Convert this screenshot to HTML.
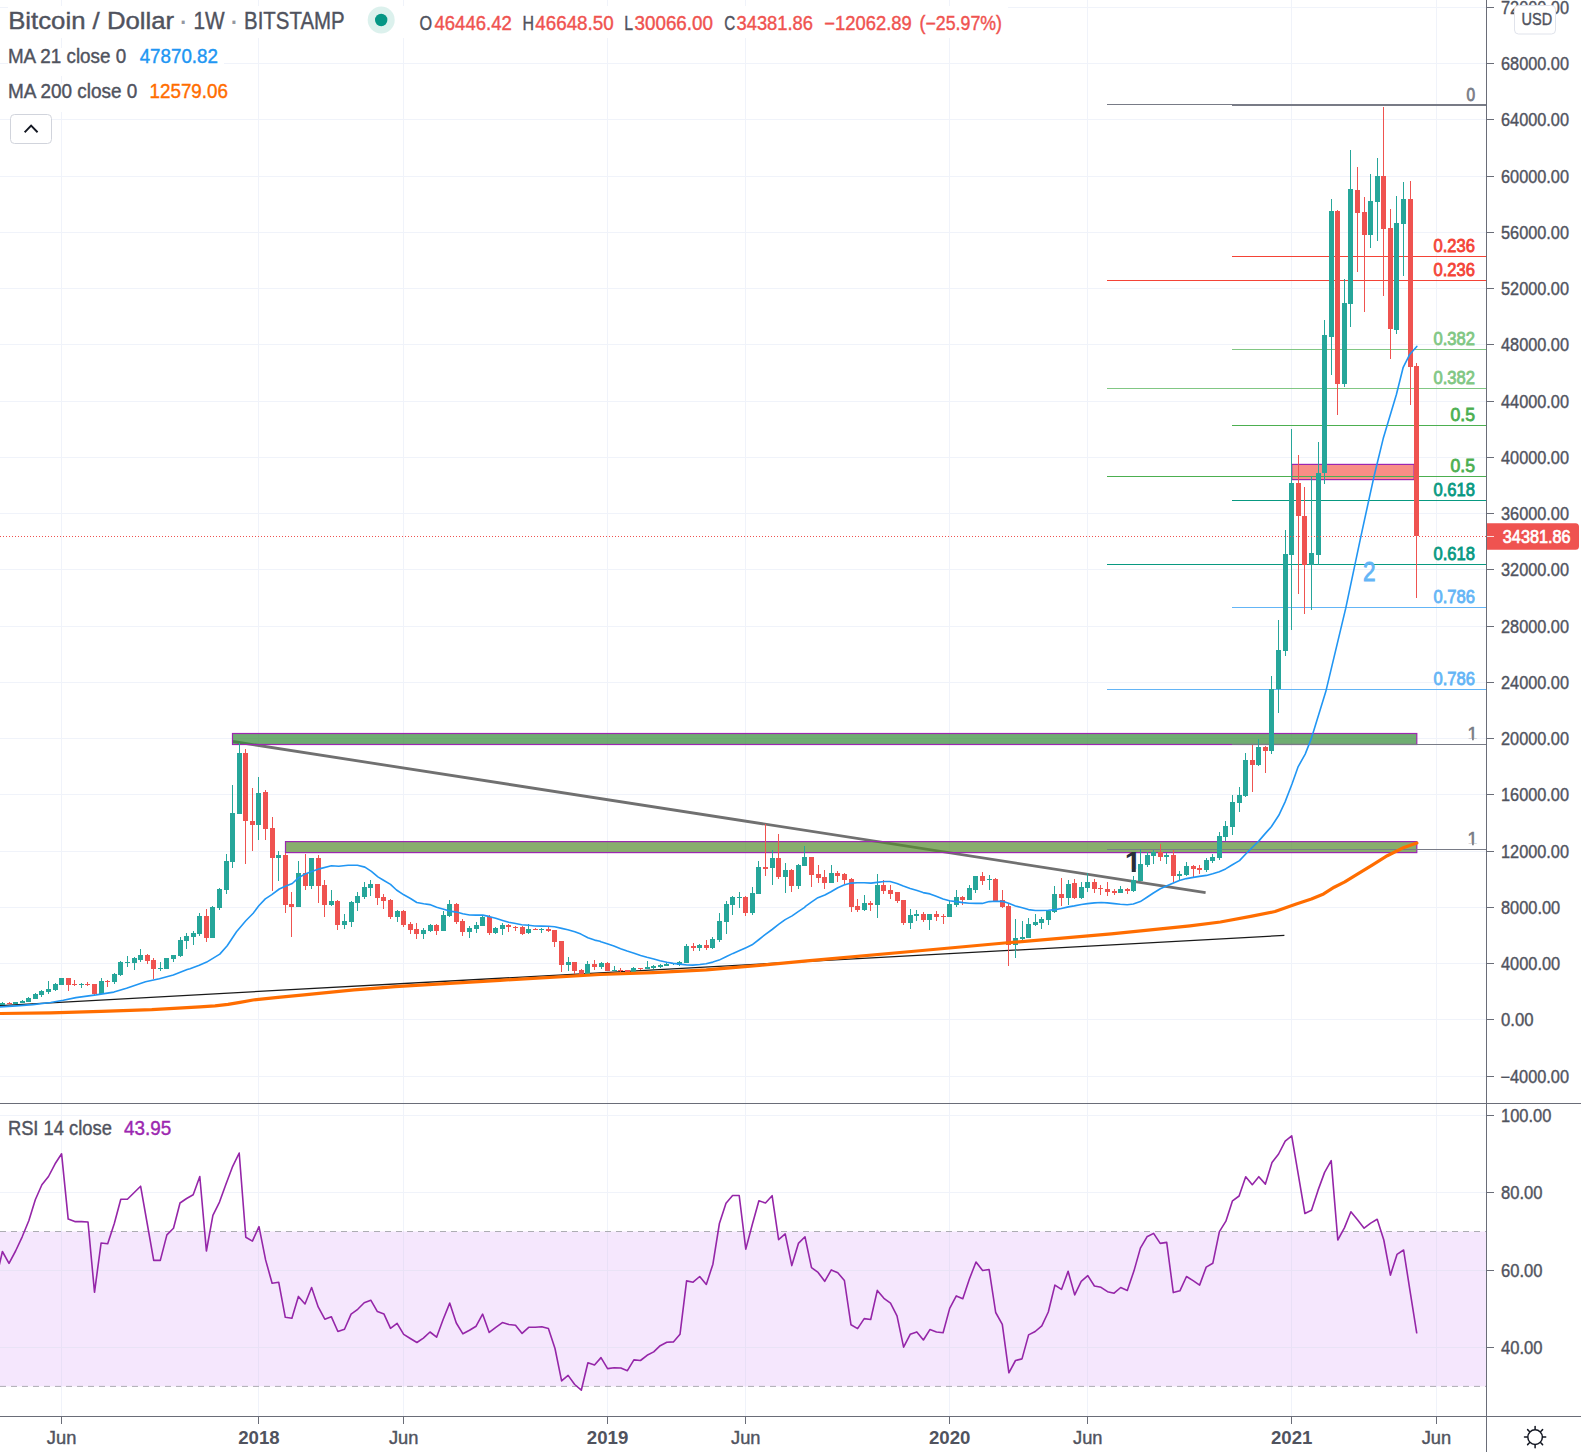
<!DOCTYPE html>
<html><head><meta charset="utf-8"><title>Bitcoin / Dollar 1W BITSTAMP</title>
<style>html,body{margin:0;padding:0;background:#fff;overflow:hidden}svg{display:block}</style></head>
<body>
<svg width="1581" height="1452" viewBox="0 0 1581 1452" font-family="Liberation Sans, sans-serif">
<rect width="1581" height="1452" fill="#fff"/>
<rect x="0" y="1231.5" width="1486" height="154.9" fill="#f5e7fd"/>
<g fill="#f0f3fa" shape-rendering="crispEdges">
<rect x="0" y="1076" width="1486" height="1"/>
<rect x="0" y="1019" width="1486" height="1"/>
<rect x="0" y="963" width="1486" height="1"/>
<rect x="0" y="907" width="1486" height="1"/>
<rect x="0" y="851" width="1486" height="1"/>
<rect x="0" y="794" width="1486" height="1"/>
<rect x="0" y="738" width="1486" height="1"/>
<rect x="0" y="682" width="1486" height="1"/>
<rect x="0" y="626" width="1486" height="1"/>
<rect x="0" y="569" width="1486" height="1"/>
<rect x="0" y="513" width="1486" height="1"/>
<rect x="0" y="457" width="1486" height="1"/>
<rect x="0" y="401" width="1486" height="1"/>
<rect x="0" y="344" width="1486" height="1"/>
<rect x="0" y="288" width="1486" height="1"/>
<rect x="0" y="232" width="1486" height="1"/>
<rect x="0" y="176" width="1486" height="1"/>
<rect x="0" y="119" width="1486" height="1"/>
<rect x="0" y="63" width="1486" height="1"/>
<rect x="0" y="7" width="1486" height="1"/>
<rect x="0" y="1115" width="1486" height="1" fill="#e9e3f6" opacity="0"/>
<rect x="0" y="1115" width="1486" height="1"/>
<rect x="0" y="1192" width="1486" height="1" fill="#e9e3f6" opacity="0"/>
<rect x="0" y="1192" width="1486" height="1"/>
<rect x="0" y="1270" width="1486" height="1" fill="#e9e3f6" opacity="1"/>
<rect x="0" y="1347" width="1486" height="1" fill="#e9e3f6" opacity="1"/>
<rect x="61" y="0" width="1" height="1231"/>
<rect x="61" y="1231" width="1" height="156" fill="#e9e0f7"/>
<rect x="61" y="1387" width="1" height="29"/>
<rect x="258" y="0" width="1" height="1231"/>
<rect x="258" y="1231" width="1" height="156" fill="#e9e0f7"/>
<rect x="258" y="1387" width="1" height="29"/>
<rect x="403" y="0" width="1" height="1231"/>
<rect x="403" y="1231" width="1" height="156" fill="#e9e0f7"/>
<rect x="403" y="1387" width="1" height="29"/>
<rect x="607" y="0" width="1" height="1231"/>
<rect x="607" y="1231" width="1" height="156" fill="#e9e0f7"/>
<rect x="607" y="1387" width="1" height="29"/>
<rect x="745" y="0" width="1" height="1231"/>
<rect x="745" y="1231" width="1" height="156" fill="#e9e0f7"/>
<rect x="745" y="1387" width="1" height="29"/>
<rect x="949" y="0" width="1" height="1231"/>
<rect x="949" y="1231" width="1" height="156" fill="#e9e0f7"/>
<rect x="949" y="1387" width="1" height="29"/>
<rect x="1087" y="0" width="1" height="1231"/>
<rect x="1087" y="1231" width="1" height="156" fill="#e9e0f7"/>
<rect x="1087" y="1387" width="1" height="29"/>
<rect x="1291" y="0" width="1" height="1231"/>
<rect x="1291" y="1231" width="1" height="156" fill="#e9e0f7"/>
<rect x="1291" y="1387" width="1" height="29"/>
<rect x="1436" y="0" width="1" height="1231"/>
<rect x="1436" y="1231" width="1" height="156" fill="#e9e0f7"/>
<rect x="1436" y="1387" width="1" height="29"/>
</g>
<line x1="0" y1="1231.5" x2="1486" y2="1231.5" stroke="#adadb3" stroke-width="1" stroke-dasharray="6 5"/>
<line x1="0" y1="1386.4" x2="1486" y2="1386.4" stroke="#adadb3" stroke-width="1" stroke-dasharray="6 5"/>
<line x1="0" y1="1005.6" x2="1284.4" y2="935.4" stroke="#1a1a1a" stroke-width="1.3"/>
<line x1="233" y1="741.5" x2="1205.6" y2="892.6" stroke="#707070" stroke-width="2.8"/>
<rect x="232.5" y="733.5" width="1184.3" height="11" fill="#388e3c" fill-opacity="0.72" stroke="#9c27b0" stroke-width="1.2"/>
<rect x="285.5" y="841.6" width="1131.3" height="11" fill="#558b2f" fill-opacity="0.7" stroke="#9c27b0" stroke-width="1.2"/>
<rect x="1291.8" y="464.4" width="122.3" height="15.2" fill="#f44336" fill-opacity="0.6" stroke="#9c27b0" stroke-width="1.2"/>
<g shape-rendering="crispEdges">
<rect x="1107" y="104" width="379" height="1" fill="#787b86"/>
<rect x="1107" y="280" width="379" height="1" fill="#f44336"/>
<rect x="1107" y="388" width="379" height="1" fill="#81c784"/>
<rect x="1107" y="476" width="379" height="1" fill="#4caf50"/>
<rect x="1107" y="564" width="379" height="1" fill="#089981"/>
<rect x="1107" y="689" width="379" height="1" fill="#64b5f6"/>
<rect x="1107" y="849" width="379" height="1" fill="#787b86"/>
</g>
<g shape-rendering="crispEdges">
<rect x="1232" y="105" width="254" height="1" fill="#787b86"/>
<rect x="1232" y="256" width="254" height="1" fill="#f44336"/>
<rect x="1232" y="349" width="254" height="1" fill="#81c784"/>
<rect x="1232" y="425" width="254" height="1" fill="#4caf50"/>
<rect x="1232" y="500" width="254" height="1" fill="#089981"/>
<rect x="1232" y="607" width="254" height="1" fill="#64b5f6"/>
<rect x="1232" y="744" width="254" height="1" fill="#787b86"/>
</g>
<g shape-rendering="crispEdges">
<rect x="2" y="1002" width="1" height="3" fill="#26a69a"/>
<rect x="0" y="1003" width="5" height="2" fill="#26a69a"/>
<rect x="9" y="1002" width="1" height="2" fill="#ef5350"/>
<rect x="7" y="1003" width="5" height="1" fill="#ef5350"/>
<rect x="15" y="1002" width="1" height="2" fill="#26a69a"/>
<rect x="13" y="1002" width="5" height="2" fill="#26a69a"/>
<rect x="22" y="1000" width="1" height="3" fill="#26a69a"/>
<rect x="20" y="1001" width="5" height="2" fill="#26a69a"/>
<rect x="28" y="997" width="1" height="5" fill="#26a69a"/>
<rect x="26" y="998" width="5" height="4" fill="#26a69a"/>
<rect x="35" y="993" width="1" height="6" fill="#26a69a"/>
<rect x="33" y="994" width="5" height="5" fill="#26a69a"/>
<rect x="41" y="990" width="1" height="7" fill="#26a69a"/>
<rect x="39" y="991" width="5" height="4" fill="#26a69a"/>
<rect x="48" y="981" width="1" height="13" fill="#26a69a"/>
<rect x="46" y="989" width="5" height="3" fill="#26a69a"/>
<rect x="55" y="983" width="1" height="8" fill="#26a69a"/>
<rect x="53" y="984" width="5" height="6" fill="#26a69a"/>
<rect x="61" y="978" width="1" height="7" fill="#26a69a"/>
<rect x="59" y="978" width="5" height="7" fill="#26a69a"/>
<rect x="68" y="978" width="1" height="13" fill="#ef5350"/>
<rect x="66" y="978" width="5" height="7" fill="#ef5350"/>
<rect x="74" y="980" width="1" height="6" fill="#ef5350"/>
<rect x="72" y="984" width="5" height="1" fill="#ef5350"/>
<rect x="81" y="983" width="1" height="5" fill="#26a69a"/>
<rect x="79" y="984" width="5" height="1" fill="#26a69a"/>
<rect x="87" y="982" width="1" height="4" fill="#ef5350"/>
<rect x="85" y="984" width="5" height="1" fill="#ef5350"/>
<rect x="94" y="984" width="1" height="11" fill="#ef5350"/>
<rect x="92" y="984" width="5" height="10" fill="#ef5350"/>
<rect x="101" y="978" width="1" height="16" fill="#26a69a"/>
<rect x="99" y="981" width="5" height="13" fill="#26a69a"/>
<rect x="107" y="980" width="1" height="7" fill="#ef5350"/>
<rect x="105" y="981" width="5" height="1" fill="#ef5350"/>
<rect x="114" y="973" width="1" height="11" fill="#26a69a"/>
<rect x="112" y="974" width="5" height="8" fill="#26a69a"/>
<rect x="120" y="961" width="1" height="15" fill="#26a69a"/>
<rect x="118" y="962" width="5" height="13" fill="#26a69a"/>
<rect x="127" y="956" width="1" height="11" fill="#26a69a"/>
<rect x="125" y="962" width="5" height="1" fill="#26a69a"/>
<rect x="134" y="957" width="1" height="13" fill="#26a69a"/>
<rect x="132" y="958" width="5" height="5" fill="#26a69a"/>
<rect x="140" y="949" width="1" height="13" fill="#26a69a"/>
<rect x="138" y="955" width="5" height="5" fill="#26a69a"/>
<rect x="147" y="954" width="1" height="10" fill="#ef5350"/>
<rect x="145" y="955" width="5" height="6" fill="#ef5350"/>
<rect x="153" y="958" width="1" height="21" fill="#ef5350"/>
<rect x="151" y="960" width="5" height="9" fill="#ef5350"/>
<rect x="160" y="962" width="1" height="9" fill="#26a69a"/>
<rect x="158" y="968" width="5" height="1" fill="#26a69a"/>
<rect x="166" y="958" width="1" height="11" fill="#26a69a"/>
<rect x="164" y="958" width="5" height="11" fill="#26a69a"/>
<rect x="173" y="955" width="1" height="7" fill="#26a69a"/>
<rect x="171" y="955" width="5" height="4" fill="#26a69a"/>
<rect x="180" y="937" width="1" height="20" fill="#26a69a"/>
<rect x="178" y="940" width="5" height="16" fill="#26a69a"/>
<rect x="186" y="933" width="1" height="16" fill="#26a69a"/>
<rect x="184" y="936" width="5" height="5" fill="#26a69a"/>
<rect x="193" y="931" width="1" height="14" fill="#26a69a"/>
<rect x="191" y="933" width="5" height="4" fill="#26a69a"/>
<rect x="199" y="913" width="1" height="23" fill="#26a69a"/>
<rect x="197" y="916" width="5" height="18" fill="#26a69a"/>
<rect x="206" y="909" width="1" height="33" fill="#ef5350"/>
<rect x="204" y="916" width="5" height="22" fill="#ef5350"/>
<rect x="212" y="906" width="1" height="32" fill="#26a69a"/>
<rect x="210" y="907" width="5" height="31" fill="#26a69a"/>
<rect x="219" y="888" width="1" height="22" fill="#26a69a"/>
<rect x="217" y="889" width="5" height="19" fill="#26a69a"/>
<rect x="226" y="854" width="1" height="40" fill="#26a69a"/>
<rect x="224" y="861" width="5" height="29" fill="#26a69a"/>
<rect x="232" y="785" width="1" height="83" fill="#26a69a"/>
<rect x="230" y="813" width="5" height="49" fill="#26a69a"/>
<rect x="239" y="743" width="1" height="71" fill="#26a69a"/>
<rect x="237" y="753" width="5" height="61" fill="#26a69a"/>
<rect x="245" y="749" width="1" height="115" fill="#ef5350"/>
<rect x="243" y="753" width="5" height="68" fill="#ef5350"/>
<rect x="252" y="788" width="1" height="63" fill="#ef5350"/>
<rect x="250" y="821" width="5" height="4" fill="#ef5350"/>
<rect x="258" y="777" width="1" height="63" fill="#26a69a"/>
<rect x="256" y="793" width="5" height="32" fill="#26a69a"/>
<rect x="265" y="790" width="1" height="50" fill="#ef5350"/>
<rect x="263" y="792" width="5" height="37" fill="#ef5350"/>
<rect x="272" y="817" width="1" height="74" fill="#ef5350"/>
<rect x="270" y="828" width="5" height="30" fill="#ef5350"/>
<rect x="278" y="851" width="1" height="30" fill="#26a69a"/>
<rect x="276" y="855" width="5" height="3" fill="#26a69a"/>
<rect x="285" y="853" width="1" height="60" fill="#ef5350"/>
<rect x="283" y="855" width="5" height="50" fill="#ef5350"/>
<rect x="291" y="892" width="1" height="45" fill="#ef5350"/>
<rect x="289" y="904" width="5" height="3" fill="#ef5350"/>
<rect x="298" y="861" width="1" height="46" fill="#26a69a"/>
<rect x="296" y="873" width="5" height="34" fill="#26a69a"/>
<rect x="305" y="854" width="1" height="36" fill="#ef5350"/>
<rect x="303" y="873" width="5" height="13" fill="#ef5350"/>
<rect x="311" y="858" width="1" height="31" fill="#26a69a"/>
<rect x="309" y="858" width="5" height="28" fill="#26a69a"/>
<rect x="318" y="855" width="1" height="48" fill="#ef5350"/>
<rect x="316" y="858" width="5" height="28" fill="#ef5350"/>
<rect x="324" y="880" width="1" height="37" fill="#ef5350"/>
<rect x="322" y="885" width="5" height="20" fill="#ef5350"/>
<rect x="331" y="890" width="1" height="16" fill="#26a69a"/>
<rect x="329" y="901" width="5" height="4" fill="#26a69a"/>
<rect x="337" y="900" width="1" height="30" fill="#ef5350"/>
<rect x="335" y="901" width="5" height="24" fill="#ef5350"/>
<rect x="344" y="914" width="1" height="15" fill="#26a69a"/>
<rect x="342" y="921" width="5" height="4" fill="#26a69a"/>
<rect x="351" y="901" width="1" height="26" fill="#26a69a"/>
<rect x="349" y="902" width="5" height="20" fill="#26a69a"/>
<rect x="357" y="892" width="1" height="19" fill="#26a69a"/>
<rect x="355" y="896" width="5" height="7" fill="#26a69a"/>
<rect x="364" y="882" width="1" height="17" fill="#26a69a"/>
<rect x="362" y="887" width="5" height="10" fill="#26a69a"/>
<rect x="370" y="880" width="1" height="16" fill="#26a69a"/>
<rect x="368" y="884" width="5" height="4" fill="#26a69a"/>
<rect x="377" y="884" width="1" height="21" fill="#ef5350"/>
<rect x="375" y="884" width="5" height="14" fill="#ef5350"/>
<rect x="383" y="894" width="1" height="15" fill="#ef5350"/>
<rect x="381" y="897" width="5" height="4" fill="#ef5350"/>
<rect x="390" y="899" width="1" height="20" fill="#ef5350"/>
<rect x="388" y="900" width="5" height="17" fill="#ef5350"/>
<rect x="397" y="910" width="1" height="12" fill="#26a69a"/>
<rect x="395" y="911" width="5" height="6" fill="#26a69a"/>
<rect x="403" y="910" width="1" height="17" fill="#ef5350"/>
<rect x="401" y="911" width="5" height="14" fill="#ef5350"/>
<rect x="410" y="922" width="1" height="12" fill="#ef5350"/>
<rect x="408" y="924" width="5" height="6" fill="#ef5350"/>
<rect x="416" y="923" width="1" height="16" fill="#ef5350"/>
<rect x="414" y="929" width="5" height="5" fill="#ef5350"/>
<rect x="423" y="928" width="1" height="11" fill="#26a69a"/>
<rect x="421" y="930" width="5" height="4" fill="#26a69a"/>
<rect x="430" y="924" width="1" height="8" fill="#26a69a"/>
<rect x="428" y="925" width="5" height="6" fill="#26a69a"/>
<rect x="436" y="924" width="1" height="11" fill="#ef5350"/>
<rect x="434" y="925" width="5" height="6" fill="#ef5350"/>
<rect x="443" y="911" width="1" height="20" fill="#26a69a"/>
<rect x="441" y="915" width="5" height="16" fill="#26a69a"/>
<rect x="449" y="900" width="1" height="17" fill="#26a69a"/>
<rect x="447" y="904" width="5" height="12" fill="#26a69a"/>
<rect x="456" y="903" width="1" height="21" fill="#ef5350"/>
<rect x="454" y="904" width="5" height="18" fill="#ef5350"/>
<rect x="462" y="919" width="1" height="17" fill="#ef5350"/>
<rect x="460" y="921" width="5" height="11" fill="#ef5350"/>
<rect x="469" y="926" width="1" height="12" fill="#26a69a"/>
<rect x="467" y="928" width="5" height="4" fill="#26a69a"/>
<rect x="476" y="922" width="1" height="11" fill="#26a69a"/>
<rect x="474" y="925" width="5" height="4" fill="#26a69a"/>
<rect x="482" y="916" width="1" height="10" fill="#26a69a"/>
<rect x="480" y="917" width="5" height="9" fill="#26a69a"/>
<rect x="489" y="915" width="1" height="20" fill="#ef5350"/>
<rect x="487" y="917" width="5" height="16" fill="#ef5350"/>
<rect x="495" y="927" width="1" height="7" fill="#26a69a"/>
<rect x="493" y="928" width="5" height="5" fill="#26a69a"/>
<rect x="502" y="923" width="1" height="12" fill="#26a69a"/>
<rect x="500" y="925" width="5" height="4" fill="#26a69a"/>
<rect x="508" y="924" width="1" height="8" fill="#ef5350"/>
<rect x="506" y="925" width="5" height="2" fill="#ef5350"/>
<rect x="515" y="926" width="1" height="5" fill="#ef5350"/>
<rect x="513" y="927" width="5" height="1" fill="#ef5350"/>
<rect x="522" y="926" width="1" height="9" fill="#ef5350"/>
<rect x="520" y="927" width="5" height="7" fill="#ef5350"/>
<rect x="528" y="924" width="1" height="10" fill="#26a69a"/>
<rect x="526" y="929" width="5" height="4" fill="#26a69a"/>
<rect x="535" y="928" width="1" height="2" fill="#ef5350"/>
<rect x="533" y="929" width="5" height="1" fill="#ef5350"/>
<rect x="541" y="928" width="1" height="5" fill="#26a69a"/>
<rect x="539" y="929" width="5" height="1" fill="#26a69a"/>
<rect x="548" y="927" width="1" height="5" fill="#ef5350"/>
<rect x="546" y="929" width="5" height="2" fill="#ef5350"/>
<rect x="554" y="930" width="1" height="17" fill="#ef5350"/>
<rect x="552" y="930" width="5" height="12" fill="#ef5350"/>
<rect x="561" y="941" width="1" height="31" fill="#ef5350"/>
<rect x="559" y="941" width="5" height="24" fill="#ef5350"/>
<rect x="568" y="957" width="1" height="14" fill="#26a69a"/>
<rect x="566" y="962" width="5" height="3" fill="#26a69a"/>
<rect x="574" y="962" width="1" height="12" fill="#ef5350"/>
<rect x="572" y="962" width="5" height="9" fill="#ef5350"/>
<rect x="581" y="969" width="1" height="7" fill="#ef5350"/>
<rect x="579" y="970" width="5" height="6" fill="#ef5350"/>
<rect x="587" y="961" width="1" height="15" fill="#26a69a"/>
<rect x="585" y="964" width="5" height="12" fill="#26a69a"/>
<rect x="594" y="960" width="1" height="10" fill="#ef5350"/>
<rect x="592" y="964" width="5" height="3" fill="#ef5350"/>
<rect x="601" y="962" width="1" height="7" fill="#26a69a"/>
<rect x="599" y="963" width="5" height="4" fill="#26a69a"/>
<rect x="607" y="962" width="1" height="9" fill="#ef5350"/>
<rect x="605" y="963" width="5" height="8" fill="#ef5350"/>
<rect x="614" y="966" width="1" height="5" fill="#26a69a"/>
<rect x="612" y="970" width="5" height="1" fill="#26a69a"/>
<rect x="620" y="968" width="1" height="5" fill="#ef5350"/>
<rect x="618" y="970" width="5" height="1" fill="#ef5350"/>
<rect x="627" y="970" width="1" height="3" fill="#ef5350"/>
<rect x="625" y="970" width="5" height="2" fill="#ef5350"/>
<rect x="633" y="967" width="1" height="7" fill="#26a69a"/>
<rect x="631" y="968" width="5" height="4" fill="#26a69a"/>
<rect x="640" y="968" width="1" height="2" fill="#ef5350"/>
<rect x="638" y="968" width="5" height="1" fill="#ef5350"/>
<rect x="647" y="961" width="1" height="8" fill="#26a69a"/>
<rect x="645" y="967" width="5" height="2" fill="#26a69a"/>
<rect x="653" y="965" width="1" height="4" fill="#26a69a"/>
<rect x="651" y="966" width="5" height="2" fill="#26a69a"/>
<rect x="660" y="964" width="1" height="4" fill="#26a69a"/>
<rect x="658" y="965" width="5" height="2" fill="#26a69a"/>
<rect x="666" y="963" width="1" height="3" fill="#26a69a"/>
<rect x="664" y="964" width="5" height="2" fill="#26a69a"/>
<rect x="673" y="963" width="1" height="2" fill="#26a69a"/>
<rect x="671" y="963" width="5" height="1" fill="#26a69a"/>
<rect x="679" y="961" width="1" height="5" fill="#26a69a"/>
<rect x="677" y="962" width="5" height="3" fill="#26a69a"/>
<rect x="686" y="944" width="1" height="19" fill="#26a69a"/>
<rect x="684" y="946" width="5" height="17" fill="#26a69a"/>
<rect x="693" y="943" width="1" height="8" fill="#ef5350"/>
<rect x="691" y="946" width="5" height="2" fill="#ef5350"/>
<rect x="699" y="944" width="1" height="7" fill="#26a69a"/>
<rect x="697" y="945" width="5" height="3" fill="#26a69a"/>
<rect x="706" y="940" width="1" height="10" fill="#ef5350"/>
<rect x="704" y="945" width="5" height="3" fill="#ef5350"/>
<rect x="712" y="937" width="1" height="12" fill="#26a69a"/>
<rect x="710" y="939" width="5" height="9" fill="#26a69a"/>
<rect x="719" y="913" width="1" height="29" fill="#26a69a"/>
<rect x="717" y="921" width="5" height="19" fill="#26a69a"/>
<rect x="726" y="901" width="1" height="33" fill="#26a69a"/>
<rect x="724" y="904" width="5" height="18" fill="#26a69a"/>
<rect x="732" y="896" width="1" height="19" fill="#26a69a"/>
<rect x="730" y="897" width="5" height="8" fill="#26a69a"/>
<rect x="739" y="892" width="1" height="16" fill="#26a69a"/>
<rect x="737" y="897" width="5" height="1" fill="#26a69a"/>
<rect x="745" y="896" width="1" height="20" fill="#ef5350"/>
<rect x="743" y="897" width="5" height="16" fill="#ef5350"/>
<rect x="752" y="887" width="1" height="28" fill="#26a69a"/>
<rect x="750" y="893" width="5" height="20" fill="#26a69a"/>
<rect x="758" y="861" width="1" height="33" fill="#26a69a"/>
<rect x="756" y="867" width="5" height="27" fill="#26a69a"/>
<rect x="765" y="824" width="1" height="52" fill="#ef5350"/>
<rect x="763" y="867" width="5" height="2" fill="#ef5350"/>
<rect x="772" y="850" width="1" height="35" fill="#26a69a"/>
<rect x="770" y="858" width="5" height="10" fill="#26a69a"/>
<rect x="778" y="834" width="1" height="45" fill="#ef5350"/>
<rect x="776" y="858" width="5" height="19" fill="#ef5350"/>
<rect x="785" y="863" width="1" height="30" fill="#26a69a"/>
<rect x="783" y="870" width="5" height="7" fill="#26a69a"/>
<rect x="791" y="869" width="1" height="23" fill="#ef5350"/>
<rect x="789" y="870" width="5" height="16" fill="#ef5350"/>
<rect x="798" y="864" width="1" height="25" fill="#26a69a"/>
<rect x="796" y="865" width="5" height="21" fill="#26a69a"/>
<rect x="804" y="846" width="1" height="20" fill="#26a69a"/>
<rect x="802" y="857" width="5" height="9" fill="#26a69a"/>
<rect x="811" y="857" width="1" height="30" fill="#ef5350"/>
<rect x="809" y="857" width="5" height="18" fill="#ef5350"/>
<rect x="818" y="865" width="1" height="18" fill="#ef5350"/>
<rect x="816" y="874" width="5" height="4" fill="#ef5350"/>
<rect x="824" y="870" width="1" height="19" fill="#ef5350"/>
<rect x="822" y="877" width="5" height="6" fill="#ef5350"/>
<rect x="831" y="865" width="1" height="18" fill="#26a69a"/>
<rect x="829" y="873" width="5" height="10" fill="#26a69a"/>
<rect x="837" y="871" width="1" height="11" fill="#ef5350"/>
<rect x="835" y="873" width="5" height="3" fill="#ef5350"/>
<rect x="844" y="873" width="1" height="11" fill="#ef5350"/>
<rect x="842" y="874" width="5" height="6" fill="#ef5350"/>
<rect x="851" y="878" width="1" height="34" fill="#ef5350"/>
<rect x="849" y="879" width="5" height="28" fill="#ef5350"/>
<rect x="857" y="899" width="1" height="13" fill="#ef5350"/>
<rect x="855" y="906" width="5" height="4" fill="#ef5350"/>
<rect x="864" y="895" width="1" height="16" fill="#26a69a"/>
<rect x="862" y="903" width="5" height="7" fill="#26a69a"/>
<rect x="870" y="901" width="1" height="10" fill="#ef5350"/>
<rect x="868" y="903" width="5" height="2" fill="#ef5350"/>
<rect x="877" y="874" width="1" height="44" fill="#26a69a"/>
<rect x="875" y="885" width="5" height="20" fill="#26a69a"/>
<rect x="883" y="880" width="1" height="14" fill="#ef5350"/>
<rect x="881" y="885" width="5" height="6" fill="#ef5350"/>
<rect x="890" y="885" width="1" height="14" fill="#ef5350"/>
<rect x="888" y="890" width="5" height="4" fill="#ef5350"/>
<rect x="897" y="892" width="1" height="11" fill="#ef5350"/>
<rect x="895" y="892" width="5" height="9" fill="#ef5350"/>
<rect x="903" y="900" width="1" height="25" fill="#ef5350"/>
<rect x="901" y="900" width="5" height="23" fill="#ef5350"/>
<rect x="910" y="909" width="1" height="20" fill="#26a69a"/>
<rect x="908" y="915" width="5" height="8" fill="#26a69a"/>
<rect x="916" y="910" width="1" height="11" fill="#26a69a"/>
<rect x="914" y="914" width="5" height="2" fill="#26a69a"/>
<rect x="923" y="912" width="1" height="10" fill="#ef5350"/>
<rect x="921" y="914" width="5" height="6" fill="#ef5350"/>
<rect x="929" y="914" width="1" height="16" fill="#26a69a"/>
<rect x="927" y="914" width="5" height="6" fill="#26a69a"/>
<rect x="936" y="911" width="1" height="10" fill="#ef5350"/>
<rect x="934" y="914" width="5" height="3" fill="#ef5350"/>
<rect x="943" y="914" width="1" height="10" fill="#ef5350"/>
<rect x="941" y="916" width="5" height="1" fill="#ef5350"/>
<rect x="949" y="900" width="1" height="17" fill="#26a69a"/>
<rect x="947" y="904" width="5" height="13" fill="#26a69a"/>
<rect x="956" y="890" width="1" height="17" fill="#26a69a"/>
<rect x="954" y="897" width="5" height="8" fill="#26a69a"/>
<rect x="962" y="896" width="1" height="9" fill="#ef5350"/>
<rect x="960" y="897" width="5" height="3" fill="#ef5350"/>
<rect x="969" y="885" width="1" height="15" fill="#26a69a"/>
<rect x="967" y="888" width="5" height="12" fill="#26a69a"/>
<rect x="975" y="876" width="1" height="17" fill="#26a69a"/>
<rect x="973" y="876" width="5" height="14" fill="#26a69a"/>
<rect x="982" y="872" width="1" height="13" fill="#ef5350"/>
<rect x="980" y="876" width="5" height="5" fill="#ef5350"/>
<rect x="989" y="875" width="1" height="15" fill="#26a69a"/>
<rect x="987" y="879" width="5" height="1" fill="#26a69a"/>
<rect x="995" y="878" width="1" height="24" fill="#ef5350"/>
<rect x="993" y="879" width="5" height="22" fill="#ef5350"/>
<rect x="1002" y="890" width="1" height="18" fill="#ef5350"/>
<rect x="1000" y="900" width="5" height="7" fill="#ef5350"/>
<rect x="1008" y="904" width="1" height="62" fill="#ef5350"/>
<rect x="1006" y="906" width="5" height="39" fill="#ef5350"/>
<rect x="1015" y="919" width="1" height="39" fill="#26a69a"/>
<rect x="1013" y="938" width="5" height="7" fill="#26a69a"/>
<rect x="1022" y="921" width="1" height="20" fill="#26a69a"/>
<rect x="1020" y="937" width="5" height="2" fill="#26a69a"/>
<rect x="1028" y="918" width="1" height="20" fill="#26a69a"/>
<rect x="1026" y="924" width="5" height="14" fill="#26a69a"/>
<rect x="1035" y="914" width="1" height="12" fill="#26a69a"/>
<rect x="1033" y="922" width="5" height="3" fill="#26a69a"/>
<rect x="1041" y="917" width="1" height="12" fill="#26a69a"/>
<rect x="1039" y="919" width="5" height="4" fill="#26a69a"/>
<rect x="1048" y="910" width="1" height="15" fill="#26a69a"/>
<rect x="1046" y="911" width="5" height="9" fill="#26a69a"/>
<rect x="1054" y="886" width="1" height="27" fill="#26a69a"/>
<rect x="1052" y="894" width="5" height="18" fill="#26a69a"/>
<rect x="1061" y="878" width="1" height="28" fill="#ef5350"/>
<rect x="1059" y="894" width="5" height="4" fill="#ef5350"/>
<rect x="1068" y="880" width="1" height="25" fill="#26a69a"/>
<rect x="1066" y="884" width="5" height="14" fill="#26a69a"/>
<rect x="1074" y="879" width="1" height="20" fill="#ef5350"/>
<rect x="1072" y="883" width="5" height="15" fill="#ef5350"/>
<rect x="1081" y="882" width="1" height="17" fill="#26a69a"/>
<rect x="1079" y="887" width="5" height="11" fill="#26a69a"/>
<rect x="1087" y="873" width="1" height="19" fill="#26a69a"/>
<rect x="1085" y="882" width="5" height="6" fill="#26a69a"/>
<rect x="1094" y="879" width="1" height="14" fill="#ef5350"/>
<rect x="1092" y="882" width="5" height="7" fill="#ef5350"/>
<rect x="1100" y="885" width="1" height="10" fill="#ef5350"/>
<rect x="1098" y="888" width="5" height="1" fill="#ef5350"/>
<rect x="1107" y="882" width="1" height="14" fill="#ef5350"/>
<rect x="1105" y="889" width="5" height="3" fill="#ef5350"/>
<rect x="1114" y="889" width="1" height="6" fill="#ef5350"/>
<rect x="1112" y="891" width="5" height="2" fill="#ef5350"/>
<rect x="1120" y="886" width="1" height="7" fill="#26a69a"/>
<rect x="1118" y="889" width="5" height="4" fill="#26a69a"/>
<rect x="1127" y="888" width="1" height="6" fill="#ef5350"/>
<rect x="1125" y="889" width="5" height="2" fill="#ef5350"/>
<rect x="1133" y="876" width="1" height="16" fill="#26a69a"/>
<rect x="1131" y="880" width="5" height="11" fill="#26a69a"/>
<rect x="1140" y="849" width="1" height="32" fill="#26a69a"/>
<rect x="1138" y="864" width="5" height="17" fill="#26a69a"/>
<rect x="1147" y="852" width="1" height="15" fill="#26a69a"/>
<rect x="1145" y="855" width="5" height="10" fill="#26a69a"/>
<rect x="1153" y="850" width="1" height="14" fill="#26a69a"/>
<rect x="1151" y="852" width="5" height="4" fill="#26a69a"/>
<rect x="1160" y="844" width="1" height="17" fill="#ef5350"/>
<rect x="1158" y="852" width="5" height="5" fill="#ef5350"/>
<rect x="1166" y="853" width="1" height="11" fill="#26a69a"/>
<rect x="1164" y="855" width="5" height="2" fill="#26a69a"/>
<rect x="1173" y="850" width="1" height="32" fill="#ef5350"/>
<rect x="1171" y="855" width="5" height="21" fill="#ef5350"/>
<rect x="1179" y="871" width="1" height="10" fill="#26a69a"/>
<rect x="1177" y="874" width="5" height="2" fill="#26a69a"/>
<rect x="1186" y="862" width="1" height="14" fill="#26a69a"/>
<rect x="1184" y="866" width="5" height="9" fill="#26a69a"/>
<rect x="1193" y="865" width="1" height="13" fill="#ef5350"/>
<rect x="1191" y="866" width="5" height="3" fill="#ef5350"/>
<rect x="1199" y="865" width="1" height="9" fill="#ef5350"/>
<rect x="1197" y="868" width="5" height="2" fill="#ef5350"/>
<rect x="1206" y="858" width="1" height="14" fill="#26a69a"/>
<rect x="1204" y="860" width="5" height="10" fill="#26a69a"/>
<rect x="1212" y="854" width="1" height="9" fill="#26a69a"/>
<rect x="1210" y="857" width="5" height="4" fill="#26a69a"/>
<rect x="1219" y="832" width="1" height="28" fill="#26a69a"/>
<rect x="1217" y="836" width="5" height="22" fill="#26a69a"/>
<rect x="1225" y="821" width="1" height="20" fill="#26a69a"/>
<rect x="1223" y="826" width="5" height="11" fill="#26a69a"/>
<rect x="1232" y="795" width="1" height="40" fill="#26a69a"/>
<rect x="1230" y="802" width="5" height="25" fill="#26a69a"/>
<rect x="1239" y="787" width="1" height="25" fill="#26a69a"/>
<rect x="1237" y="795" width="5" height="8" fill="#26a69a"/>
<rect x="1245" y="753" width="1" height="44" fill="#26a69a"/>
<rect x="1243" y="760" width="5" height="36" fill="#26a69a"/>
<rect x="1252" y="745" width="1" height="47" fill="#ef5350"/>
<rect x="1250" y="760" width="5" height="5" fill="#ef5350"/>
<rect x="1258" y="739" width="1" height="27" fill="#26a69a"/>
<rect x="1256" y="747" width="5" height="18" fill="#26a69a"/>
<rect x="1265" y="746" width="1" height="27" fill="#ef5350"/>
<rect x="1263" y="747" width="5" height="4" fill="#ef5350"/>
<rect x="1271" y="676" width="1" height="78" fill="#26a69a"/>
<rect x="1269" y="689" width="5" height="62" fill="#26a69a"/>
<rect x="1278" y="620" width="1" height="93" fill="#26a69a"/>
<rect x="1276" y="650" width="5" height="39" fill="#26a69a"/>
<rect x="1285" y="530" width="1" height="126" fill="#26a69a"/>
<rect x="1283" y="554" width="5" height="97" fill="#26a69a"/>
<rect x="1291" y="429" width="1" height="201" fill="#26a69a"/>
<rect x="1289" y="483" width="5" height="72" fill="#26a69a"/>
<rect x="1298" y="455" width="1" height="139" fill="#ef5350"/>
<rect x="1296" y="483" width="5" height="33" fill="#ef5350"/>
<rect x="1304" y="487" width="1" height="127" fill="#ef5350"/>
<rect x="1302" y="516" width="5" height="49" fill="#ef5350"/>
<rect x="1311" y="476" width="1" height="134" fill="#26a69a"/>
<rect x="1309" y="553" width="5" height="12" fill="#26a69a"/>
<rect x="1318" y="442" width="1" height="123" fill="#26a69a"/>
<rect x="1316" y="473" width="5" height="82" fill="#26a69a"/>
<rect x="1324" y="320" width="1" height="164" fill="#26a69a"/>
<rect x="1322" y="335" width="5" height="138" fill="#26a69a"/>
<rect x="1331" y="199" width="1" height="176" fill="#26a69a"/>
<rect x="1329" y="211" width="5" height="126" fill="#26a69a"/>
<rect x="1337" y="210" width="1" height="205" fill="#ef5350"/>
<rect x="1335" y="211" width="5" height="173" fill="#ef5350"/>
<rect x="1344" y="279" width="1" height="108" fill="#26a69a"/>
<rect x="1342" y="303" width="5" height="81" fill="#26a69a"/>
<rect x="1350" y="150" width="1" height="177" fill="#26a69a"/>
<rect x="1348" y="189" width="5" height="115" fill="#26a69a"/>
<rect x="1357" y="167" width="1" height="105" fill="#ef5350"/>
<rect x="1355" y="190" width="5" height="23" fill="#ef5350"/>
<rect x="1364" y="197" width="1" height="115" fill="#ef5350"/>
<rect x="1362" y="212" width="5" height="23" fill="#ef5350"/>
<rect x="1370" y="174" width="1" height="74" fill="#26a69a"/>
<rect x="1368" y="201" width="5" height="34" fill="#26a69a"/>
<rect x="1377" y="158" width="1" height="83" fill="#26a69a"/>
<rect x="1375" y="176" width="5" height="26" fill="#26a69a"/>
<rect x="1383" y="107" width="1" height="189" fill="#ef5350"/>
<rect x="1381" y="176" width="5" height="53" fill="#ef5350"/>
<rect x="1390" y="209" width="1" height="150" fill="#ef5350"/>
<rect x="1388" y="228" width="5" height="101" fill="#ef5350"/>
<rect x="1396" y="196" width="1" height="138" fill="#26a69a"/>
<rect x="1394" y="223" width="5" height="107" fill="#26a69a"/>
<rect x="1403" y="182" width="1" height="94" fill="#26a69a"/>
<rect x="1401" y="199" width="5" height="25" fill="#26a69a"/>
<rect x="1410" y="181" width="1" height="224" fill="#ef5350"/>
<rect x="1408" y="199" width="5" height="168" fill="#ef5350"/>
<rect x="1416" y="363" width="1" height="235" fill="#ef5350"/>
<rect x="1414" y="366" width="5" height="170" fill="#ef5350"/>
</g>
<line x1="0" y1="536.5" x2="1486" y2="536.5" stroke="#ef5350" stroke-width="1" stroke-dasharray="1 2"/>
<polyline points="0.0,1013.5 50.6,1012.8 101.2,1011.3 151.8,1009.7 200.0,1006.9 215.0,1005.8 228.0,1004.3 240.0,1002.3 253.0,1000.0 278.0,997.4 304.0,994.9 329.0,992.4 354.0,989.9 380.0,987.8 395.0,986.6 500.0,980.3 600.0,974.5 653.1,972.7 706.3,969.8 759.4,965.4 807.0,960.8 911.3,951.5 1004.5,943.0 1111.3,933.9 1190.0,925.8 1220.4,922.0 1250.7,916.4 1275.0,911.5 1296.3,903.9 1311.4,898.9 1323.6,893.9 1334.2,887.2 1344.8,881.9 1357.0,874.3 1372.2,865.1 1387.3,855.7 1402.5,848.1 1416.9,843.1" fill="none" stroke="#ff6d00" stroke-width="3.2" stroke-linejoin="round" stroke-linecap="round" />
<polyline points="0.0,1006.9 16.4,1005.9 32.9,1004.6 50.6,1002.5 63.3,1000.2 75.9,997.6 96.1,994.9 113.9,992.1 126.5,988.2 145.5,981.8 159.4,978.7 173.3,975.1 187.2,969.6 190.0,968.7 199.3,965.3 206.7,962.1 219.8,954.1 227.2,945.8 236.5,931.8 245.8,920.7 253.2,913.2 258.8,905.8 265.3,898.9 271.8,894.6 279.3,889.0 285.4,886.2 292.3,883.5 298.4,877.9 304.6,874.2 311.7,871.4 320.2,868.6 331.4,865.8 338.8,866.2 348.1,865.2 357.4,865.2 364.9,867.1 371.4,871.4 377.9,876.9 383.5,880.3 390.5,884.4 396.5,890.0 403.8,894.8 410.5,898.5 416.8,902.5 423.7,903.8 429.8,904.6 436.6,907.2 442.8,908.9 449.7,911.1 456.6,912.1 462.7,913.8 469.6,915.0 475.8,915.1 482.7,915.1 488.8,916.4 495.7,918.2 502.6,920.4 508.7,922.2 515.6,923.5 521.7,924.7 528.6,925.3 534.7,926.0 541.6,926.1 548.5,926.3 554.6,926.8 561.7,928.4 567.8,929.7 574.8,931.7 580.9,934.1 587.9,937.7 594.6,940.1 600.0,941.2 600.9,941.7 608.0,944.1 613.9,946.1 620.6,948.8 627.1,951.1 634.1,953.2 640.6,955.4 646.9,957.2 653.8,959.0 660.0,960.8 666.9,962.3 673.2,963.4 680.1,964.1 687.0,965.0 692.8,965.1 699.9,964.5 706.0,963.8 712.9,962.1 719.1,960.1 726.0,956.8 733.0,953.4 739.1,950.8 746.0,947.7 752.1,944.8 759.0,939.5 765.1,934.6 772.1,929.5 778.9,924.2 785.2,919.6 792.1,915.9 798.2,911.6 805.0,907.2 805.1,906.6 811.0,902.3 817.9,897.7 824.9,895.0 831.0,891.7 837.8,887.7 844.0,885.0 851.1,883.1 857.1,882.7 864.1,882.7 871.0,883.1 877.1,882.4 884.2,881.5 890.1,881.5 897.0,883.4 903.3,886.0 910.2,888.4 917.1,890.6 923.1,892.6 930.0,893.9 936.2,896.3 943.1,899.0 949.4,900.7 956.1,901.6 963.1,902.6 969.2,903.2 976.1,903.4 982.3,903.4 989.2,901.6 995.5,901.2 1002.2,901.4 1005.0,902.0 1009.3,903.6 1015.4,905.9 1022.3,907.8 1028.5,909.6 1035.4,910.5 1041.5,910.5 1048.4,910.2 1055.3,909.6 1061.4,908.5 1068.4,906.9 1074.3,905.9 1081.4,904.5 1087.5,903.6 1094.4,902.9 1101.3,902.5 1107.4,902.9 1114.3,903.6 1120.3,904.3 1127.2,904.7 1133.3,904.0 1140.3,901.6 1147.4,897.0 1153.4,893.0 1160.3,888.7 1166.4,886.1 1173.4,883.0 1179.4,880.4 1186.4,878.6 1193.3,877.4 1199.4,876.4 1206.5,875.4 1212.7,873.8 1219.3,871.7 1225.6,868.9 1232.4,864.7 1239.5,860.6 1245.5,854.3 1252.5,847.3 1258.7,841.1 1265.4,833.4 1271.5,826.5 1278.8,815.3 1285.0,802.1 1292.0,784.0 1298.2,766.6 1305.2,754.1 1311.5,738.1 1325.8,691.6 1345.7,608.4 1355.1,563.9 1360.9,536.3 1373.8,477.3 1383.2,438.6 1396.4,394.5 1403.2,367.3 1409.5,354.8 1416.8,346.4" fill="none" stroke="#2196f3" stroke-width="1.6" stroke-linejoin="round" stroke-linecap="round" />
<text x="1475" y="276.3" font-size="18" fill="#f44336" stroke="#f44336" stroke-width="0.8" text-anchor="end" font-weight="normal" textLength="41.5" lengthAdjust="spacingAndGlyphs">0.236</text>
<text x="1475" y="384.3" font-size="18" fill="#81c784" stroke="#81c784" stroke-width="0.8" text-anchor="end" font-weight="normal" textLength="41.5" lengthAdjust="spacingAndGlyphs">0.382</text>
<text x="1475" y="472.3" font-size="18" fill="#4caf50" stroke="#4caf50" stroke-width="0.8" text-anchor="end" font-weight="normal" textLength="24.5" lengthAdjust="spacingAndGlyphs">0.5</text>
<text x="1475" y="560.3" font-size="18" fill="#089981" stroke="#089981" stroke-width="0.8" text-anchor="end" font-weight="normal" textLength="41.5" lengthAdjust="spacingAndGlyphs">0.618</text>
<text x="1475" y="685.3" font-size="18" fill="#64b5f6" stroke="#64b5f6" stroke-width="0.8" text-anchor="end" font-weight="normal" textLength="41.5" lengthAdjust="spacingAndGlyphs">0.786</text>
<clipPath id="k1"><rect x="1465.58" y="827.30" width="18.00" height="15.96"/><rect x="1472.11" y="842.30" width="1.59" height="4"/></clipPath>
<text x="1467.58" y="845.30" font-size="18" fill="#787b86" stroke="#787b86" stroke-width="0.6" clip-path="url(#k1)">1</text>
<text x="1475" y="252.3" font-size="18" fill="#f44336" stroke="#f44336" stroke-width="0.8" text-anchor="end" font-weight="normal" textLength="41.5" lengthAdjust="spacingAndGlyphs">0.236</text>
<text x="1475" y="345.3" font-size="18" fill="#81c784" stroke="#81c784" stroke-width="0.8" text-anchor="end" font-weight="normal" textLength="41.5" lengthAdjust="spacingAndGlyphs">0.382</text>
<text x="1475" y="421.3" font-size="18" fill="#4caf50" stroke="#4caf50" stroke-width="0.8" text-anchor="end" font-weight="normal" textLength="24.5" lengthAdjust="spacingAndGlyphs">0.5</text>
<text x="1475" y="496.3" font-size="18" fill="#089981" stroke="#089981" stroke-width="0.8" text-anchor="end" font-weight="normal" textLength="41.5" lengthAdjust="spacingAndGlyphs">0.618</text>
<text x="1475" y="603.3" font-size="18" fill="#64b5f6" stroke="#64b5f6" stroke-width="0.8" text-anchor="end" font-weight="normal" textLength="41.5" lengthAdjust="spacingAndGlyphs">0.786</text>
<clipPath id="k2"><rect x="1465.58" y="722.30" width="18.00" height="15.96"/><rect x="1472.11" y="737.30" width="1.59" height="4"/></clipPath>
<text x="1467.58" y="740.30" font-size="18" fill="#787b86" stroke="#787b86" stroke-width="0.6" clip-path="url(#k2)">1</text>
<text x="1475" y="101.4" font-size="18" fill="#787b86" stroke="#787b86" stroke-width="0.8" text-anchor="end" font-weight="normal" textLength="8.6" lengthAdjust="spacingAndGlyphs">0</text>
<clipPath id="c1"><rect x="1120" y="845" width="30" height="23.95"/><rect x="1131.70" y="860" width="4.10" height="13"/></clipPath>
<text x="1124.72" y="871.7" font-size="29.9" font-weight="bold" fill="#2a2e39" clip-path="url(#c1)">1</text>
<text x="1362.9" y="581.1" font-size="27" fill="#64b5f6" stroke="#64b5f6" stroke-width="0.9" textLength="12.6" lengthAdjust="spacingAndGlyphs">2</text>
<polyline points="-4.1,1279.8 2.4,1251.5 9.0,1263.3 15.6,1251.0 22.2,1236.8 28.8,1220.7 35.3,1199.8 41.9,1184.7 48.5,1176.5 55.1,1163.8 61.6,1153.8 68.2,1219.1 74.8,1221.6 81.4,1221.6 88.0,1222.0 94.5,1292.3 101.1,1243.0 107.7,1243.8 114.3,1223.5 120.8,1199.3 127.4,1199.3 134.0,1192.8 140.6,1186.2 147.2,1223.5 153.7,1260.4 160.3,1260.4 166.9,1234.9 173.5,1228.2 180.0,1203.0 186.6,1198.5 193.2,1194.7 199.8,1176.5 206.4,1251.0 212.9,1215.4 219.5,1202.1 226.1,1183.7 232.7,1166.3 239.2,1153.0 245.8,1237.3 252.4,1241.1 259.0,1226.7 265.6,1259.9 272.1,1283.2 278.7,1282.2 285.3,1317.3 291.9,1318.2 298.4,1296.4 305.0,1304.0 311.6,1287.5 318.2,1306.9 324.8,1319.2 331.3,1316.7 337.9,1331.5 344.5,1329.2 351.1,1314.1 357.7,1309.3 364.2,1302.7 370.8,1300.2 377.4,1311.6 384.0,1314.1 390.5,1328.3 397.1,1323.3 403.7,1334.3 410.3,1338.5 416.9,1342.5 423.4,1338.1 430.0,1332.0 436.6,1337.2 443.2,1319.2 449.7,1303.1 456.3,1323.0 462.9,1333.8 469.5,1330.2 476.1,1326.2 482.6,1314.1 489.2,1332.4 495.8,1327.3 502.4,1322.6 508.9,1324.5 515.5,1325.2 522.1,1333.4 528.7,1327.3 535.3,1327.3 541.8,1326.7 548.4,1328.6 555.0,1348.5 561.6,1380.9 568.1,1375.4 574.7,1384.5 581.3,1390.2 587.9,1362.7 594.5,1365.0 601.0,1357.6 607.6,1368.6 614.2,1367.8 620.8,1368.0 627.4,1370.7 633.9,1359.9 640.5,1360.5 647.1,1355.3 653.7,1351.9 660.2,1345.7 666.8,1342.3 673.4,1341.9 680.0,1334.3 686.6,1280.9 693.1,1282.2 699.7,1276.5 706.3,1284.5 712.9,1264.2 719.4,1223.5 726.0,1203.2 732.6,1195.5 739.2,1195.5 745.8,1249.1 752.3,1224.5 758.9,1200.8 765.5,1203.0 772.1,1195.7 778.6,1239.6 785.2,1233.9 791.8,1265.6 798.4,1243.4 805.0,1236.8 811.5,1267.6 818.1,1272.4 824.7,1281.3 831.3,1269.9 837.8,1272.8 844.4,1280.5 851.0,1324.8 857.6,1328.6 864.2,1318.6 870.7,1319.5 877.3,1290.4 883.9,1298.3 890.5,1303.1 897.0,1315.8 903.6,1347.2 910.2,1334.3 916.8,1331.9 923.4,1340.0 929.9,1329.6 936.5,1332.0 943.1,1332.8 949.7,1308.4 956.3,1295.9 962.8,1298.7 969.4,1279.0 976.0,1262.0 982.6,1270.5 989.1,1269.5 995.7,1312.5 1002.3,1324.3 1008.9,1372.8 1015.5,1360.5 1022.0,1358.9 1028.6,1334.9 1035.2,1331.5 1041.8,1325.8 1048.3,1312.0 1054.9,1285.1 1061.5,1289.4 1068.1,1271.2 1074.7,1294.9 1081.2,1281.3 1087.8,1275.6 1094.4,1286.0 1101.0,1287.3 1107.5,1291.7 1114.1,1293.2 1120.7,1287.5 1127.3,1290.4 1133.9,1271.1 1140.4,1248.1 1147.0,1236.8 1153.6,1233.4 1160.2,1243.4 1166.7,1242.4 1173.3,1292.6 1179.9,1290.8 1186.5,1276.5 1193.1,1280.7 1199.6,1285.1 1206.2,1267.1 1212.8,1263.3 1219.4,1231.6 1225.9,1221.2 1232.5,1200.8 1239.1,1196.0 1245.7,1176.7 1252.3,1184.7 1258.8,1176.7 1265.4,1184.1 1272.0,1162.5 1278.6,1154.0 1285.2,1141.1 1291.7,1135.8 1298.3,1174.6 1304.9,1213.5 1311.5,1210.2 1318.0,1190.4 1324.6,1172.4 1331.2,1160.6 1337.8,1240.0 1344.4,1227.9 1350.9,1211.8 1357.5,1219.7 1364.1,1228.2 1370.7,1223.1 1377.2,1219.3 1383.8,1240.0 1390.4,1275.2 1397.0,1254.4 1403.6,1250.0 1410.1,1291.3 1416.7,1332.8" fill="none" stroke="#9526a8" stroke-width="1.6" stroke-linejoin="round" stroke-linecap="round" />
<g fill="#6a6d78" shape-rendering="crispEdges">
<rect x="0" y="1103" width="1581" height="1"/>
<rect x="0" y="1416" width="1581" height="1"/>
<rect x="1486" y="0" width="1" height="1452"/>
<rect x="1487" y="1076" width="7" height="1"/>
<rect x="1487" y="1019" width="7" height="1"/>
<rect x="1487" y="963" width="7" height="1"/>
<rect x="1487" y="907" width="7" height="1"/>
<rect x="1487" y="851" width="7" height="1"/>
<rect x="1487" y="794" width="7" height="1"/>
<rect x="1487" y="738" width="7" height="1"/>
<rect x="1487" y="682" width="7" height="1"/>
<rect x="1487" y="626" width="7" height="1"/>
<rect x="1487" y="569" width="7" height="1"/>
<rect x="1487" y="513" width="7" height="1"/>
<rect x="1487" y="457" width="7" height="1"/>
<rect x="1487" y="401" width="7" height="1"/>
<rect x="1487" y="344" width="7" height="1"/>
<rect x="1487" y="288" width="7" height="1"/>
<rect x="1487" y="232" width="7" height="1"/>
<rect x="1487" y="176" width="7" height="1"/>
<rect x="1487" y="119" width="7" height="1"/>
<rect x="1487" y="63" width="7" height="1"/>
<rect x="1487" y="7" width="7" height="1"/>
<rect x="1487" y="1115" width="7" height="1"/>
<rect x="1487" y="1192" width="7" height="1"/>
<rect x="1487" y="1270" width="7" height="1"/>
<rect x="1487" y="1347" width="7" height="1"/>
<rect x="61" y="1417" width="1" height="7"/>
<rect x="258" y="1417" width="1" height="7"/>
<rect x="403" y="1417" width="1" height="7"/>
<rect x="607" y="1417" width="1" height="7"/>
<rect x="745" y="1417" width="1" height="7"/>
<rect x="949" y="1417" width="1" height="7"/>
<rect x="1087" y="1417" width="1" height="7"/>
<rect x="1291" y="1417" width="1" height="7"/>
<rect x="1436" y="1417" width="1" height="7"/>
</g>
<text x="1500.5" y="1083.1" font-size="17.9" fill="#50535e" stroke="#50535e" stroke-width="0.4" text-anchor="start" font-weight="normal" textLength="68.5" lengthAdjust="spacingAndGlyphs">−4000.00</text>
<text x="1501" y="1026.1" font-size="17.9" fill="#50535e" stroke="#50535e" stroke-width="0.4" text-anchor="start" font-weight="normal" textLength="32.5" lengthAdjust="spacingAndGlyphs">0.00</text>
<text x="1501" y="970.1" font-size="17.9" fill="#50535e" stroke="#50535e" stroke-width="0.4" text-anchor="start" font-weight="normal" textLength="59.2" lengthAdjust="spacingAndGlyphs">4000.00</text>
<text x="1501" y="914.1" font-size="17.9" fill="#50535e" stroke="#50535e" stroke-width="0.4" text-anchor="start" font-weight="normal" textLength="59.2" lengthAdjust="spacingAndGlyphs">8000.00</text>
<text x="1501" y="858.1" font-size="17.9" fill="#50535e" stroke="#50535e" stroke-width="0.4" text-anchor="start" font-weight="normal" textLength="68" lengthAdjust="spacingAndGlyphs">12000.00</text>
<text x="1501" y="801.1" font-size="17.9" fill="#50535e" stroke="#50535e" stroke-width="0.4" text-anchor="start" font-weight="normal" textLength="68" lengthAdjust="spacingAndGlyphs">16000.00</text>
<text x="1501" y="745.1" font-size="17.9" fill="#50535e" stroke="#50535e" stroke-width="0.4" text-anchor="start" font-weight="normal" textLength="68" lengthAdjust="spacingAndGlyphs">20000.00</text>
<text x="1501" y="689.1" font-size="17.9" fill="#50535e" stroke="#50535e" stroke-width="0.4" text-anchor="start" font-weight="normal" textLength="68" lengthAdjust="spacingAndGlyphs">24000.00</text>
<text x="1501" y="633.1" font-size="17.9" fill="#50535e" stroke="#50535e" stroke-width="0.4" text-anchor="start" font-weight="normal" textLength="68" lengthAdjust="spacingAndGlyphs">28000.00</text>
<text x="1501" y="576.1" font-size="17.9" fill="#50535e" stroke="#50535e" stroke-width="0.4" text-anchor="start" font-weight="normal" textLength="68" lengthAdjust="spacingAndGlyphs">32000.00</text>
<text x="1501" y="520.1" font-size="17.9" fill="#50535e" stroke="#50535e" stroke-width="0.4" text-anchor="start" font-weight="normal" textLength="68" lengthAdjust="spacingAndGlyphs">36000.00</text>
<text x="1501" y="464.1" font-size="17.9" fill="#50535e" stroke="#50535e" stroke-width="0.4" text-anchor="start" font-weight="normal" textLength="68" lengthAdjust="spacingAndGlyphs">40000.00</text>
<text x="1501" y="408.1" font-size="17.9" fill="#50535e" stroke="#50535e" stroke-width="0.4" text-anchor="start" font-weight="normal" textLength="68" lengthAdjust="spacingAndGlyphs">44000.00</text>
<text x="1501" y="351.1" font-size="17.9" fill="#50535e" stroke="#50535e" stroke-width="0.4" text-anchor="start" font-weight="normal" textLength="68" lengthAdjust="spacingAndGlyphs">48000.00</text>
<text x="1501" y="295.1" font-size="17.9" fill="#50535e" stroke="#50535e" stroke-width="0.4" text-anchor="start" font-weight="normal" textLength="68" lengthAdjust="spacingAndGlyphs">52000.00</text>
<text x="1501" y="239.1" font-size="17.9" fill="#50535e" stroke="#50535e" stroke-width="0.4" text-anchor="start" font-weight="normal" textLength="68" lengthAdjust="spacingAndGlyphs">56000.00</text>
<text x="1501" y="183.1" font-size="17.9" fill="#50535e" stroke="#50535e" stroke-width="0.4" text-anchor="start" font-weight="normal" textLength="68" lengthAdjust="spacingAndGlyphs">60000.00</text>
<text x="1501" y="126.1" font-size="17.9" fill="#50535e" stroke="#50535e" stroke-width="0.4" text-anchor="start" font-weight="normal" textLength="68" lengthAdjust="spacingAndGlyphs">64000.00</text>
<text x="1501" y="70.1" font-size="17.9" fill="#50535e" stroke="#50535e" stroke-width="0.4" text-anchor="start" font-weight="normal" textLength="68" lengthAdjust="spacingAndGlyphs">68000.00</text>
<text x="1501" y="14.1" font-size="17.9" fill="#50535e" stroke="#50535e" stroke-width="0.4" text-anchor="start" font-weight="normal" textLength="68" lengthAdjust="spacingAndGlyphs">72000.00</text>
<text x="1501" y="1122.1" font-size="17.9" fill="#50535e" stroke="#50535e" stroke-width="0.4" text-anchor="start" font-weight="normal" textLength="50.3" lengthAdjust="spacingAndGlyphs">100.00</text>
<text x="1501" y="1199.1" font-size="17.9" fill="#50535e" stroke="#50535e" stroke-width="0.4" text-anchor="start" font-weight="normal" textLength="41.5" lengthAdjust="spacingAndGlyphs">80.00</text>
<text x="1501" y="1277.1" font-size="17.9" fill="#50535e" stroke="#50535e" stroke-width="0.4" text-anchor="start" font-weight="normal" textLength="41.5" lengthAdjust="spacingAndGlyphs">60.00</text>
<text x="1501" y="1354.1" font-size="17.9" fill="#50535e" stroke="#50535e" stroke-width="0.4" text-anchor="start" font-weight="normal" textLength="41.5" lengthAdjust="spacingAndGlyphs">40.00</text>
<path d="M1487 523.2h88.5a3.5 3.5 0 0 1 3.5 3.5v19.6a3.5 3.5 0 0 1-3.5 3.5h-88.5z" fill="#ef5350"/>
<rect x="1487" y="536" width="7" height="1" fill="#fff" opacity="0.8"/>
<text x="1502.8" y="542.6" font-size="17.9" fill="#fff" stroke="#fff" stroke-width="0.7" text-anchor="start" font-weight="normal" textLength="67.8" lengthAdjust="spacingAndGlyphs">34381.86</text>
<rect x="1514.5" y="5.5" width="41" height="28.5" rx="4" fill="#fff" stroke="#e0e3eb"/>
<text x="1536.8" y="25.1" font-size="15.8" fill="#50535e" stroke="#50535e" stroke-width="0.4" text-anchor="middle" font-weight="normal" textLength="30.6" lengthAdjust="spacingAndGlyphs">USD</text>
<text x="61.6" y="1443.6" font-size="17.9" fill="#50535e" stroke="#50535e" stroke-width="0.4" text-anchor="middle" font-weight="normal" textLength="29.5" lengthAdjust="spacingAndGlyphs">Jun</text>
<text x="259.0" y="1443.6" font-size="17.9" fill="#50535e" text-anchor="middle" font-weight="bold" textLength="41.5" lengthAdjust="spacingAndGlyphs">2018</text>
<text x="403.7" y="1443.6" font-size="17.9" fill="#50535e" stroke="#50535e" stroke-width="0.4" text-anchor="middle" font-weight="normal" textLength="29.5" lengthAdjust="spacingAndGlyphs">Jun</text>
<text x="607.6" y="1443.6" font-size="17.9" fill="#50535e" text-anchor="middle" font-weight="bold" textLength="41.5" lengthAdjust="spacingAndGlyphs">2019</text>
<text x="745.8" y="1443.6" font-size="17.9" fill="#50535e" stroke="#50535e" stroke-width="0.4" text-anchor="middle" font-weight="normal" textLength="29.5" lengthAdjust="spacingAndGlyphs">Jun</text>
<text x="949.7" y="1443.6" font-size="17.9" fill="#50535e" text-anchor="middle" font-weight="bold" textLength="41.5" lengthAdjust="spacingAndGlyphs">2020</text>
<text x="1087.8" y="1443.6" font-size="17.9" fill="#50535e" stroke="#50535e" stroke-width="0.4" text-anchor="middle" font-weight="normal" textLength="29.5" lengthAdjust="spacingAndGlyphs">Jun</text>
<text x="1291.7" y="1443.6" font-size="17.9" fill="#50535e" text-anchor="middle" font-weight="bold" textLength="41.5" lengthAdjust="spacingAndGlyphs">2021</text>
<text x="1436.4" y="1443.6" font-size="17.9" fill="#50535e" stroke="#50535e" stroke-width="0.4" text-anchor="middle" font-weight="normal" textLength="29.5" lengthAdjust="spacingAndGlyphs">Jun</text>
<g stroke="#131722" stroke-width="1.5" fill="none" stroke-linecap="round"><circle cx="1535.1" cy="1437.1" r="7.3"/>
<line x1="1543.10" y1="1437.10" x2="1545.70" y2="1437.10"/>
<line x1="1540.76" y1="1442.76" x2="1542.60" y2="1444.60"/>
<line x1="1535.10" y1="1445.10" x2="1535.10" y2="1447.70"/>
<line x1="1529.44" y1="1442.76" x2="1527.60" y2="1444.60"/>
<line x1="1527.10" y1="1437.10" x2="1524.50" y2="1437.10"/>
<line x1="1529.44" y1="1431.44" x2="1527.60" y2="1429.60"/>
<line x1="1535.10" y1="1429.10" x2="1535.10" y2="1426.50"/>
<line x1="1540.76" y1="1431.44" x2="1542.60" y2="1429.60"/>
</g>
<g fill="#fff"><rect x="8" y="6" width="1000" height="32"/><rect x="8" y="48" width="216" height="28"/><rect x="8" y="84" width="226" height="28"/></g>
<text x="8.2" y="28.6" font-size="24.3" fill="#50535e" stroke="#50535e" stroke-width="0.4" text-anchor="start" font-weight="normal" textLength="166" lengthAdjust="spacingAndGlyphs">Bitcoin / Dollar</text>
<text x="183.2" y="30.8" font-size="31" fill="#9598a1" stroke="#9598a1" stroke-width="0" text-anchor="middle" font-weight="normal">·</text>
<text x="193.5" y="28.6" font-size="24.3" fill="#50535e" stroke="#50535e" stroke-width="0.4" text-anchor="start" font-weight="normal" textLength="31.2" lengthAdjust="spacingAndGlyphs">1W</text>
<text x="233.8" y="30.8" font-size="31" fill="#9598a1" stroke="#9598a1" stroke-width="0" text-anchor="middle" font-weight="normal">·</text>
<text x="244.1" y="28.6" font-size="24.3" fill="#50535e" stroke="#50535e" stroke-width="0.4" text-anchor="start" font-weight="normal" textLength="100.5" lengthAdjust="spacingAndGlyphs">BITSTAMP</text>
<circle cx="381.2" cy="20" r="13.5" fill="#089981" fill-opacity="0.14"/><circle cx="381.2" cy="20" r="6.2" fill="#069685"/>
<text x="419.6" y="30.2" font-size="19.5" fill="#50535e" stroke="#50535e" stroke-width="0.4" text-anchor="start" font-weight="normal" textLength="12.6" lengthAdjust="spacingAndGlyphs">O</text>
<text x="434.5" y="30.2" font-size="19.5" fill="#ef5350" stroke="#ef5350" stroke-width="0.4" text-anchor="start" font-weight="normal" textLength="77.3" lengthAdjust="spacingAndGlyphs">46446.42</text>
<text x="522.4" y="30.2" font-size="19.5" fill="#50535e" stroke="#50535e" stroke-width="0.4" text-anchor="start" font-weight="normal" textLength="11.5" lengthAdjust="spacingAndGlyphs">H</text>
<text x="535.3" y="30.2" font-size="19.5" fill="#ef5350" stroke="#ef5350" stroke-width="0.4" text-anchor="start" font-weight="normal" textLength="78.4" lengthAdjust="spacingAndGlyphs">46648.50</text>
<text x="624.3" y="30.2" font-size="19.5" fill="#50535e" stroke="#50535e" stroke-width="0.4" text-anchor="start" font-weight="normal" textLength="8.8" lengthAdjust="spacingAndGlyphs">L</text>
<text x="634.5" y="30.2" font-size="19.5" fill="#ef5350" stroke="#ef5350" stroke-width="0.4" text-anchor="start" font-weight="normal" textLength="78.5" lengthAdjust="spacingAndGlyphs">30066.00</text>
<text x="724.3" y="30.2" font-size="19.5" fill="#50535e" stroke="#50535e" stroke-width="0.4" text-anchor="start" font-weight="normal" textLength="11" lengthAdjust="spacingAndGlyphs">C</text>
<text x="736.5" y="30.2" font-size="19.5" fill="#ef5350" stroke="#ef5350" stroke-width="0.4" text-anchor="start" font-weight="normal" textLength="76.5" lengthAdjust="spacingAndGlyphs">34381.86</text>
<text x="824.3" y="30.2" font-size="19.5" fill="#ef5350" stroke="#ef5350" stroke-width="0.4" text-anchor="start" font-weight="normal" textLength="87.5" lengthAdjust="spacingAndGlyphs">−12062.89</text>
<text x="919.6" y="30.2" font-size="19.5" fill="#ef5350" stroke="#ef5350" stroke-width="0.4" text-anchor="start" font-weight="normal" textLength="82.4" lengthAdjust="spacingAndGlyphs">(−25.97%)</text>
<text x="7.9" y="62.8" font-size="19.5" fill="#50535e" stroke="#50535e" stroke-width="0.4" text-anchor="start" font-weight="normal" textLength="118.2" lengthAdjust="spacingAndGlyphs">MA 21 close 0</text>
<text x="139.7" y="62.8" font-size="19.5" fill="#2196f3" stroke="#2196f3" stroke-width="0.4" text-anchor="start" font-weight="normal" textLength="78.2" lengthAdjust="spacingAndGlyphs">47870.82</text>
<text x="7.9" y="98.4" font-size="19.5" fill="#50535e" stroke="#50535e" stroke-width="0.4" text-anchor="start" font-weight="normal" textLength="129.5" lengthAdjust="spacingAndGlyphs">MA 200 close 0</text>
<text x="149.5" y="98.4" font-size="19.5" fill="#ff6d00" stroke="#ff6d00" stroke-width="0.4" text-anchor="start" font-weight="normal" textLength="78.5" lengthAdjust="spacingAndGlyphs">12579.06</text>
<rect x="10.5" y="114.5" width="41" height="29" rx="4" fill="#fff" stroke="#d1d4dc"/>
<path d="M25.3 131.6 L31.1 125.6 L36.9 131.6" fill="none" stroke="#131722" stroke-width="1.9" stroke-linecap="square"/>
<text x="7.9" y="1134.5" font-size="19.5" fill="#50535e" stroke="#50535e" stroke-width="0.4" text-anchor="start" font-weight="normal" textLength="104" lengthAdjust="spacingAndGlyphs">RSI 14 close</text>
<text x="124.1" y="1134.5" font-size="19.5" fill="#9c27b0" stroke="#9c27b0" stroke-width="0.4" text-anchor="start" font-weight="normal" textLength="47.3" lengthAdjust="spacingAndGlyphs">43.95</text>
</svg>
</body></html>
